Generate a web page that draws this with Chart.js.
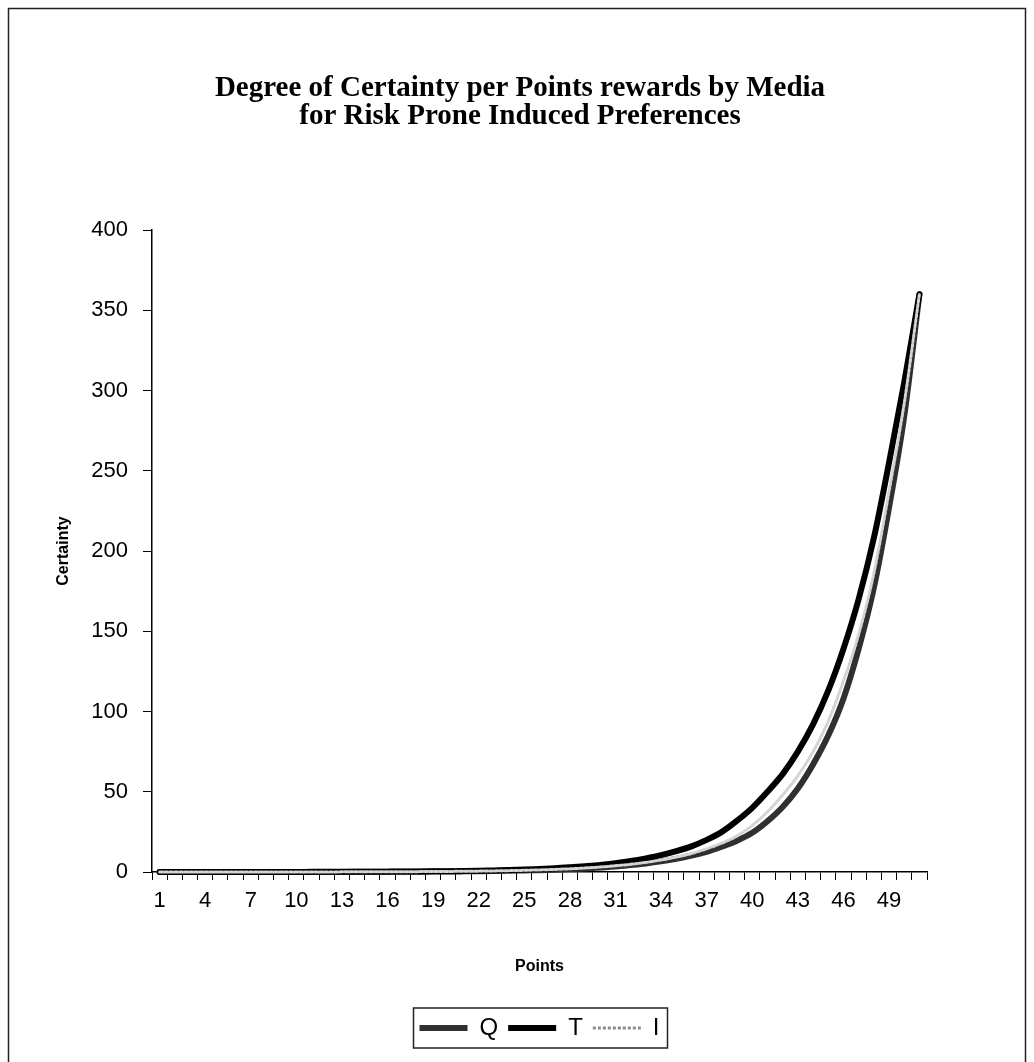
<!DOCTYPE html>
<html>
<head>
<meta charset="utf-8">
<script src="https://cdn.jsdelivr.net/npm/chart.js@4.4.0/dist/chart.umd.min.js"></script>
<style>
  html, body { margin: 0; padding: 0; background: #fff; }
  #wrap { position: relative; width: 1034px; height: 1062px; }
</style>
</head>
<body>
<div id="wrap"><canvas id="chart" width="1034" height="1062"></canvas></div>
<script>
// categories (Points 1..51)
const points = ["1","2","3","4","5","6","7","8","9","10","11","12","13","14","15","16","17",
  "18","19","20","21","22","23","24","25","26","27","28","29","30","31","32","33","34",
  "35","36","37","38","39","40","41","42","43","44","45","46","47","48","49","50","51"];
const xTickLabels = ["1","4","7","10","13","16","19","22","25","28","31","34","37","40","43","46","49"];

// certainty per media
const q = [0.01,0.01,0.01,0.01,0.01,0.02,0.02,0.02,0.03,0.03,
  0.04,0.05,0.07,0.08,0.1,0.13,0.16,0.2,0.25,0.31,
  0.39,0.48,0.6,0.75,0.95,1.15,1.45,1.8,2.2,2.8,
  3.4,4.3,5.3,6.6,8.2,10.2,12.6,15.7,19.5,24.4,
  31.6,40.5,52,67,85,108,139,177,227,284,360];
const t = [0.01,0.01,0.01,0.02,0.02,0.03,0.03,0.04,0.05,0.06,
  0.08,0.09,0.12,0.14,0.18,0.22,0.27,0.34,0.42,0.52,
  0.65,0.8,1.0,1.2,1.5,1.9,2.3,2.9,3.6,4.4,
  5.5,6.8,8.5,10.5,13,16,20,25,32,40,
  50,61,75,92,113,139,170,208,255,305,360];
const iSeries = [0.01,0.01,0.01,0.01,0.02,0.02,0.02,0.03,0.03,0.04,
  0.05,0.06,0.08,0.1,0.12,0.15,0.19,0.23,0.29,0.36,
  0.44,0.55,0.68,0.85,1.05,1.3,1.6,2.0,2.5,3.1,
  3.9,4.8,6,7.5,9.3,11.5,14.5,18,22.5,29,
  37.5,48,60,75,94,119,148,186,237,292,360];

const frame = {
  id: "frame",
  afterDraw(chart) {
    const ctx = chart.ctx;
    ctx.save();
    ctx.strokeStyle = "#222";
    ctx.lineWidth = 1.5;
    ctx.beginPath();
    ctx.moveTo(8.5, 1062);
    ctx.lineTo(8.5, 8.5);
    ctx.lineTo(1025.5, 8.5);
    ctx.lineTo(1025.5, 1062);
    ctx.stroke();
    // box round the legend
    const boxes = chart.legend.legendHitBoxes;
    if (boxes && boxes.length) {
      const l = Math.min(...boxes.map(b => b.left));
      const r = Math.max(...boxes.map(b => b.left + b.width));
      const tp = Math.min(...boxes.map(b => b.top));
      const bt = Math.max(...boxes.map(b => b.top + b.height));
      ctx.strokeRect(l - 6, tp - 8, r - l + 14, bt - tp + 16);
    }
    ctx.restore();
  }
};

const lineBase = {
  pointRadius: 0,
  pointHoverRadius: 0,
  fill: false,
  cubicInterpolationMode: "monotone",
  borderCapStyle: "round",
  borderJoinStyle: "round",
  clip: false
};

new Chart(document.getElementById("chart"), {
  type: "line",
  data: {
    labels: points,
    datasets: [
      { ...lineBase, label: "Q", data: q, borderColor: "#303030", borderWidth: 6, order: 2 },
      { ...lineBase, label: "T", data: t, borderColor: "#000000", borderWidth: 6, order: 1 },
      { ...lineBase, label: "I", data: iSeries, borderColor: "#d4d4d4", borderWidth: 3, borderDash: [3, 2], order: 0 }
    ]
  },
  options: {
    responsive: false,
    animation: false,
    layout: { padding: { left: 40, right: 34, top: 60, bottom: 12 } },
    plugins: {
      title: {
        display: true,
        text: ["Degree of Certainty per Points rewards by Media", "for Risk Prone Induced Preferences"],
        color: "#000",
        font: { family: "'Liberation Serif', serif", size: 29, weight: "bold", lineHeight: 0.95 },
        padding: { top: 15, bottom: 100 }
      },
      legend: {
        position: "bottom",
        fullSize: false,
        labels: {
          color: "#000",
          font: { family: "'Liberation Sans', Arial", size: 24 },
          usePointStyle: true,
          pointStyle: "line",
          pointStyleWidth: 48,
          padding: 10,
          sort: (a, b) => a.datasetIndex - b.datasetIndex,
          generateLabels(chart) {
            const items = Chart.defaults.plugins.legend.labels.generateLabels(chart);
            items.forEach(it => {
              const ds = chart.data.datasets[it.datasetIndex];
              it.strokeStyle = ds.label === "I" ? "#8a8a8a" : ds.borderColor;
              it.lineWidth = ds.borderWidth;
              it.lineDash = ds.borderDash || [];
              it.pointStyle = "line";
            });
            return items;
          }
        }
      },
      tooltip: { enabled: false }
    },
    scales: {
      x: {
        offset: true,
        afterFit: s => { s.height = 134; },
        grid: { display: true, offset: true, drawOnChartArea: false, drawTicks: true, tickLength: 8, color: "#000", lineWidth: 1 },
        border: { display: true, color: "#000", width: 1.5 },
        ticks: {
          autoSkip: false,
          maxRotation: 0,
          color: "#000",
          padding: 8,
          font: { family: "'Liberation Sans', Arial", size: 22 },
          callback: function (v, idx) {
            const lab = points[idx];
            return xTickLabels.includes(lab) ? lab : "";
          }
        },
        title: {
          display: true,
          text: "Points",
          color: "#000",
          font: { family: "'Liberation Sans', Arial", size: 16, weight: "bold" },
          padding: { top: 0, bottom: 30 }
        }
      },
      y: {
        min: 0,
        max: 400,
        afterFit: s => { s.width = 112; },
        grid: { display: true, drawOnChartArea: false, drawTicks: true, tickLength: 9, color: "#000" },
        border: { display: true, color: "#000", width: 1.5 },
        ticks: {
          stepSize: 50,
          color: "#000",
          padding: 15,
          font: { family: "'Liberation Sans', Arial", size: 22 }
        },
        title: {
          display: true,
          text: "Certainty",
          color: "#000",
          font: { family: "'Liberation Sans', Arial", size: 16, weight: "bold" },
          padding: { top: 14, bottom: 0 }
        }
      },
      // empty right-hand spacer so the plot ends where the original does
      spacer: {
        position: "right",
        axis: "y",
        display: true,
        afterFit: s => { s.width = 73; },
        grid: { display: false, drawTicks: false },
        border: { display: false },
        ticks: { display: false }
      }
    }
  },
  plugins: [frame]
});
</script>
</body>
</html>
